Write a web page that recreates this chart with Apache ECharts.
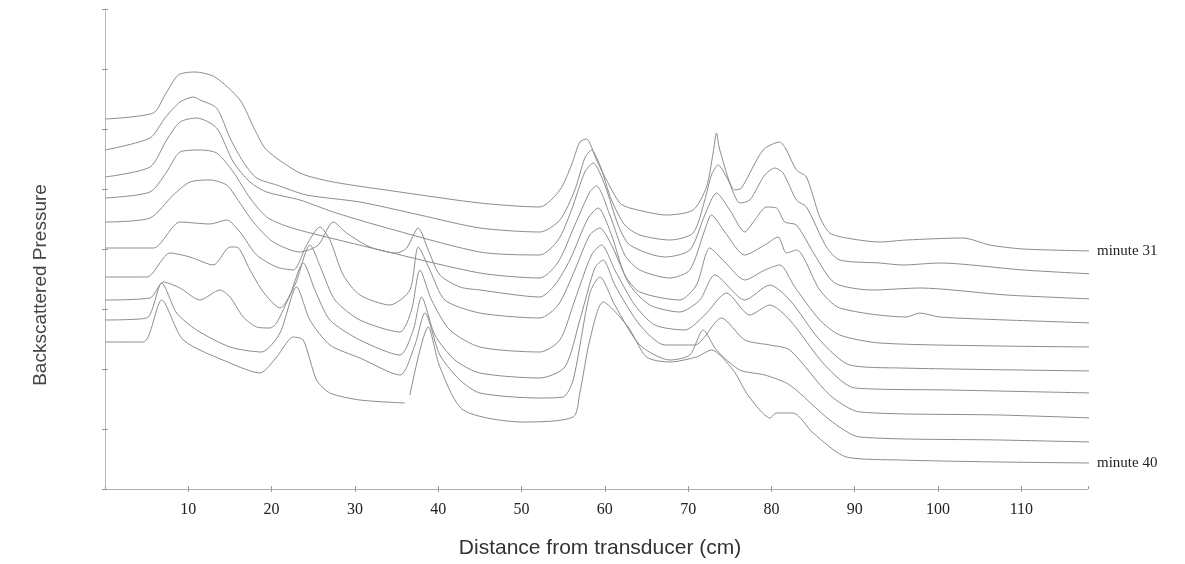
<!DOCTYPE html>
<html><head><meta charset="utf-8">
<script src="https://cdn.jsdelivr.net/npm/echarts@6/dist/echarts.min.js"></script>
<style>html,body{margin:0;padding:0;background:#fff}#c{width:1185px;height:564px}</style>
</head><body><div id="c"></div>
<script>
// Distance (cm), backscattered pressure (arbitrary units, traces stacked with offsets as drawn)
const traceNames = ['minute 31','minute 32','minute 33','minute 34','minute 35','minute 36','minute 37','minute 38','minute 39','minute 40'];
const xTickValues = [10,20,30,40,50,60,70,80,90,100,110];

const t31 = [[0,370],[5.8,376],[7.2,394],[8.8,414],[10.8,417],[13.2,412],[16.2,389],[18.0,359],[19.4,339],[23.4,316],[27.4,307],[35.4,297],[45.0,286],[52.2,282],[54.6,299],[56.0,324],[57.0,347],[57.8,350],[59.0,329],[60.2,309],[61.8,286],[63.0,281],[67.4,274],[70.6,279],[72.2,302],[73.0,336],[73.4,356],[73.8,339],[75.6,299],[76.4,301],[79.0,339],[81.0,347],[81.8,339],[83.0,319],[84.2,312],[85.8,272],[87.0,256],[89.0,251],[93.0,247],[96.2,249],[103.0,251],[106.2,244],[110.2,240],[118.6,238]];
const t32 = [[0,339],[5.4,351],[7.2,371],[9.0,387],[10.6,392],[11.4,389],[13.4,381],[15.0,351],[16.6,327],[18.2,311],[20.6,304],[24.2,294],[30.6,287],[37.8,274],[45.0,261],[52.2,257],[54.6,269],[56.4,299],[57.6,331],[58.4,339],[59.4,324],[60.8,289],[62.4,264],[64.2,254],[67.8,249],[70.6,256],[72.0,289],[72.8,314],[73.6,324],[74.8,309],[76.2,286],[77.4,289],[79.2,314],[80.4,321],[81.4,316],[83.0,289],[84.2,282],[86.6,242],[88.2,229],[93.0,226],[95.8,224],[100.2,226],[110.2,219],[118.6,215]];
const t33 = [[0,312],[5.4,322],[7.4,349],[9.0,367],[11.0,371],[13.4,361],[15.4,327],[17.4,307],[19.4,297],[23.4,289],[27.4,277],[33.0,263],[45.0,237],[52.2,234],[54.4,249],[56.0,279],[57.6,317],[58.6,326],[60.0,304],[61.6,264],[63.0,244],[67.2,232],[70.2,239],[72.0,274],[73.4,296],[75.0,279],[76.8,257],[78.0,269],[79.4,282],[80.6,281],[81.6,267],[83.0,264],[85.2,234],[87.6,206],[92.2,199],[97.8,201],[108.2,194],[118.6,190]];
const t34 = [[0,291],[5.4,297],[7.4,317],[9.0,337],[11.4,339],[13.4,336],[15.4,317],[17.4,291],[19.4,272],[21.4,264],[24.2,257],[33.0,239],[45.0,216],[52.2,211],[54.4,227],[56.4,264],[58.2,297],[59.0,303],[60.6,274],[62.4,234],[64.2,219],[67.8,211],[70.2,219],[72.0,259],[72.8,274],[74.4,257],[76.8,234],[79.2,244],[80.8,252],[81.8,236],[83.0,239],[85.8,199],[88.2,181],[96.2,172],[97.8,176],[100.2,172],[108.2,169],[118.6,166]];
const t35 = [[0,267],[5.4,271],[8.2,294],[10.2,307],[12.6,309],[14.6,304],[15.8,291],[17.8,267],[20.2,247],[23.4,237],[25.6,244],[27.4,267],[29.0,256],[31.8,242],[35.0,236],[36.2,241],[37.6,261],[38.8,239],[40.2,214],[42.6,202],[45.0,199],[52.2,192],[54.0,204],[55.8,229],[58.0,271],[59.2,281],[60.8,254],[62.4,214],[64.2,197],[69.0,189],[71.0,204],[72.6,241],[74.4,227],[76.8,209],[79.2,219],[81.0,224],[82.8,202],[85.8,169],[88.2,154],[93.0,146],[107.4,143],[118.6,142]];
const t36 = [[0,241],[5.8,241],[9.0,267],[12.6,265],[14.6,269],[16.2,257],[18.2,234],[20.6,222],[22.6,219],[24.2,244],[25.8,262],[27.0,249],[28.6,214],[30.6,194],[34.2,184],[36.6,199],[37.6,242],[39.0,219],[40.8,189],[45.0,176],[52.2,171],[54.4,184],[56.4,219],[58.2,254],[59.4,261],[60.8,244],[63.0,204],[65.4,184],[69.0,177],[71.4,189],[73.2,214],[76.8,189],[79.8,204],[82.2,189],[85.8,149],[89.4,124],[95.4,121],[118.6,118]];
const t37 = [[0,212],[5.0,212],[7.8,236],[10.2,232],[13.0,224],[15.0,242],[15.8,242],[17.4,219],[19.0,197],[21.0,181],[22.8,204],[24.6,244],[26.0,219],[27.6,189],[30.6,169],[35.4,157],[36.8,179],[37.8,219],[39.2,189],[41.4,159],[45.0,142],[52.2,137],[54.6,149],[56.4,189],[58.4,234],[59.6,244],[61.2,219],[63.6,184],[66.0,164],[69.6,159],[72.0,174],[74.6,196],[77.4,174],[79.8,184],[82.2,169],[86.4,124],[90.0,101],[101.4,99],[118.6,96]];
const t38 = [[0,189],[5.4,191],[7.0,207],[9.0,201],[11.4,189],[13.8,199],[15.0,192],[16.6,172],[18.2,162],[19.8,161],[20.6,166],[22.2,194],[23.8,226],[25.2,199],[27.0,169],[30.6,149],[35.4,134],[37.0,159],[38.0,192],[39.6,154],[42.0,129],[45.0,116],[52.2,111],[55.2,122],[57.0,169],[58.8,221],[59.8,229],[61.2,204],[64.2,164],[67.2,144],[70.8,144],[74.0,171],[76.8,149],[79.8,144],[82.2,139],[87.0,94],[90.6,77],[107.4,74],[118.6,71]];
const t39 = [[0,169],[5.0,171],[6.8,206],[8.6,176],[11.0,159],[15.0,142],[18.8,137],[21.0,156],[23.0,202],[24.6,169],[27.0,144],[30.6,131],[35.4,114],[37.2,144],[38.4,176],[40.2,134],[42.6,109],[45.0,96],[52.2,91],[55.0,92],[56.2,109],[58.2,196],[59.4,212],[61.2,184],[64.2,144],[67.8,129],[70.2,134],[71.8,159],[73.4,139],[76.2,119],[79.2,114],[82.2,104],[87.0,69],[90.6,52],[107.4,49],[118.6,47]];
const t40 = [[0,147],[4.6,147],[6.8,189],[9.4,149],[15.0,126],[18.6,116],[20.6,132],[22.6,152],[23.8,149],[25.4,109],[27.0,96],[30.6,89],[36.0,86],[36.3,null],[36.6,94],[38.8,162],[40.2,122],[43.0,79],[50.2,67],[56.2,72],[57.0,96],[58.2,149],[59.8,187],[62.8,162],[65.0,132],[67.8,127],[71.0,132],[72.8,139],[75.4,119],[77.0,96],[78.6,79],[79.8,71],[80.6,76],[82.6,76],[85.0,56],[89.0,32],[95.4,29],[107.4,27],[118.2,26]];

const traces = [t31,t32,t33,t34,t35,t36,t37,t38,t39,t40];

const chart = echarts.init(document.getElementById('c'), null, {renderer:'canvas'});
const labelled = {0:true, 9:true};
const series = traces.map((d,i)=>({
  name: traceNames[i],
  type: 'line',
  data: d,
  showSymbol: false,
  connectNulls: false,
  smooth: 0.25,
  silent: true,
  lineStyle: {color:'#8c8c8c', width:1},
  endLabel: labelled[i] ? {show:true, formatter: traceNames[i], distance: 8,
     fontFamily:'Liberation Serif', fontSize:15, color:'#222'} : {show:false},
  z: 2
}));

const xCommon = {type:'value', min:0, max:118, interval:10, position:'bottom'};
const yCommon = {type:'value', min:0, max:480, interval:60, position:'left'};

chart.setOption({
  animation:false,
  backgroundColor:'#fff',
  grid:{left:105, right:97, top:9, bottom:75, containLabel:false},
  xAxis:[
    Object.assign({}, xCommon, {
      axisLine:{show:true, onZero:false, lineStyle:{color:'#b0b0b0', width:1}},
      axisTick:{show:true, length:3, lineStyle:{color:'#999'}},
      axisLabel:{show:true, margin:13, showMinLabel:false, showMaxLabel:false,
        fontFamily:'Liberation Serif', fontSize:16, color:'#222',
        formatter:(v)=> xTickValues.indexOf(v) >= 0 ? String(v) : ''},
      splitLine:{show:false}
    }),
    Object.assign({}, xCommon, {
      axisLine:{show:false, onZero:false},
      axisTick:{show:true, inside:true, length:3, lineStyle:{color:'#999'}},
      axisLabel:{show:false}, splitLine:{show:false}
    })
  ],
  yAxis:[
    Object.assign({}, yCommon, {
      axisLine:{show:true, onZero:false, lineStyle:{color:'#b8b8b8', width:1}},
      axisTick:{show:true, length:3, lineStyle:{color:'#999'}},
      axisLabel:{show:false}, splitLine:{show:false}
    }),
    Object.assign({}, yCommon, {
      axisLine:{show:false, onZero:false},
      axisTick:{show:true, inside:true, length:3, lineStyle:{color:'#999'}},
      axisLabel:{show:false}, splitLine:{show:false}
    })
  ],
  graphic:[
    {type:'text', x:600, y:548, style:{text:'Distance from transducer (cm)', font:'21px "Liberation Sans", Arial, sans-serif', fill:'#333', align:'center', verticalAlign:'middle'}},
    {type:'text', x:41, y:285, rotation:Math.PI/2, style:{text:'Backscattered Pressure', font:'19px "Liberation Sans", Arial, sans-serif', fill:'#444', align:'center', verticalAlign:'middle'}}
  ],
  series: series
});
</script>
</body></html>
